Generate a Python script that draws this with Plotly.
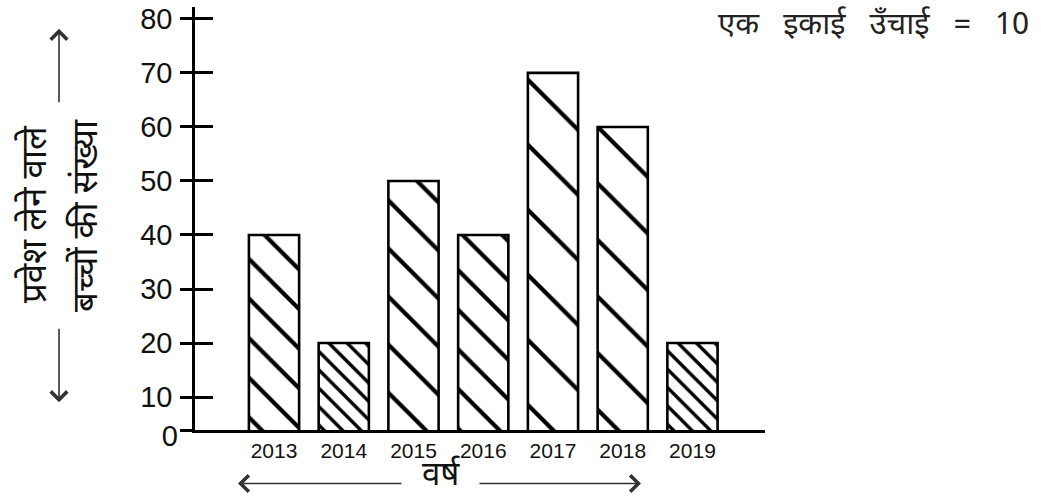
import plotly.graph_objects as go

# ---- data ----
years = ["2013", "2014", "2015", "2016", "2017", "2018", "2019"]
students = [40, 20, 50, 40, 70, 60, 20]
ytick_values = [10, 20, 30, 40, 50, 60, 70, 80]
ytick_labels = ["10", "20", "30", "40", "50", "60", "70", "80"]

# ---- styling ----
W, H = 1041, 501
ML, MR, MT, MB = 195, 276, 3, 71
PW, PH = W - ML - MR, H - MT - MB
BASE = 3.9          # value sitting on the drawn baseline (labelled "0")
YTOP = 82.2
hatch_sizes = [28, 13, 34, 28, 46, 40, 13]
hatch_lw = [4.2, 3.4, 4.2, 4.2, 4.2, 4.2, 3.4]
hatch_solidity = [w / s for w, s in zip(hatch_lw, hatch_sizes)]
FONT = "Liberation Sans, Arial, sans-serif"
HFONT = "Noto Sans Devanagari, Noto Sans, Lohit Devanagari, Mangal, sans-serif"
NB = "\u00a0"


def px(xp):
    return (xp - ML) / PW


def py(yp):
    return (MT + PH - yp) / PH


fig = go.Figure()
fig.add_trace(go.Bar(
    x=years, y=students, width=0.72,
    marker=dict(color="white",
                line=dict(color="black", width=2.6),
                pattern=dict(shape="\\", fgcolor="black", bgcolor="white",
                             fgopacity=1, fillmode="replace",
                             size=hatch_sizes, solidity=hatch_solidity)),
    hoverinfo="x+y", showlegend=False,
))
# invisible trace to create overlay y-axis (inner half of the crossing ticks)
fig.add_trace(go.Scatter(x=[None], y=[None], yaxis="y2", showlegend=False,
                         hoverinfo="skip"))

fig.update_layout(
    width=W, height=H,
    margin=dict(l=ML, r=MR, t=MT, b=MB),
    paper_bgcolor="white", plot_bgcolor="white",
    xaxis=dict(range=[-1.133, 7.04], showline=True, linecolor="black",
               linewidth=2.5, ticks="", showgrid=False, zeroline=False,
               tickfont=dict(family=FONT, size=21, color="#111"),
               ticklabelstandoff=0),
    yaxis=dict(range=[BASE, YTOP], showline=True, linecolor="black",
               linewidth=2.5, ticks="outside", ticklen=12, tickwidth=2.5,
               tickcolor="black", showgrid=False, zeroline=False,
               tickvals=[BASE] + ytick_values,
               ticktext=[""] + ytick_labels,
               tickfont=dict(family=FONT, size=29, color="#111"),
               ticklabelstandoff=2, ticklabeloverflow="allow"),
    yaxis2=dict(range=[BASE, YTOP], overlaying="y", side="left", anchor="x",
                showline=False, ticks="inside", ticklen=18, tickwidth=2.5,
                tickcolor="black", showgrid=False, zeroline=False,
                tickvals=[BASE] + ytick_values,
                ticktext=["0"] + [""] * len(ytick_values),
                ticklabelposition="outside",
                tickfont=dict(family=FONT, size=29, color="#111"),
                ticklabelstandoff=16, ticklabelshift=6,
                ticklabeloverflow="allow"),
    bargap=0.28,
)

ann = []
# y-axis title (two rotated lines)
ann.append(dict(text="प्रवेश लेने वाले", x=px(37), y=py(212), xref="paper",
                yref="paper", showarrow=False, textangle=-90,
                font=dict(family=HFONT, size=35, color="#111"),
                xanchor="center", yanchor="middle"))
ann.append(dict(text="बच्चों की संख्या", x=px(88), y=py(214), xref="paper",
                yref="paper", showarrow=False, textangle=-90,
                font=dict(family=HFONT, size=35, color="#111"),
                xanchor="center", yanchor="middle"))
# arrows for y title
ann.append(dict(text="", x=px(59), y=py(25), xref="paper", yref="paper",
                showarrow=True, ax=0, ay=75, arrowhead=4, arrowsize=2,
                arrowwidth=1.6, arrowcolor="#333"))
ann.append(dict(text="", x=px(59), y=py(402), xref="paper", yref="paper",
                showarrow=True, ax=0, ay=-75, arrowhead=4, arrowsize=2,
                arrowwidth=1.6, arrowcolor="#333"))
# x-axis title
ann.append(dict(text="वर्ष", x=px(441), y=py(477), xref="paper",
                yref="paper", showarrow=False,
                font=dict(family=HFONT, size=33, color="#111"),
                xanchor="center", yanchor="middle"))
ann.append(dict(text="", x=px(238), y=py(484), xref="paper", yref="paper",
                showarrow=True, ax=165, ay=0, arrowhead=4, arrowsize=2,
                arrowwidth=1.6, arrowcolor="#333"))
ann.append(dict(text="", x=px(641), y=py(484), xref="paper", yref="paper",
                showarrow=True, ax=-163, ay=0, arrowhead=4, arrowsize=2,
                arrowwidth=1.6, arrowcolor="#333"))
# unit note
note = (NB * 2 + " ").join(["एक", "इकाई", "उँचाई", "=", "10"])
ann.append(dict(text=note, x=px(1031), y=py(23),
                xref="paper", yref="paper", showarrow=False,
                font=dict(family=HFONT, size=31, color="#222"),
                xanchor="right", yanchor="middle"))
fig.update_layout(annotations=ann)

fig.write_html("out.html", config={"displayModeBar": False},
               post_script="document.body.style.margin='0px';")
